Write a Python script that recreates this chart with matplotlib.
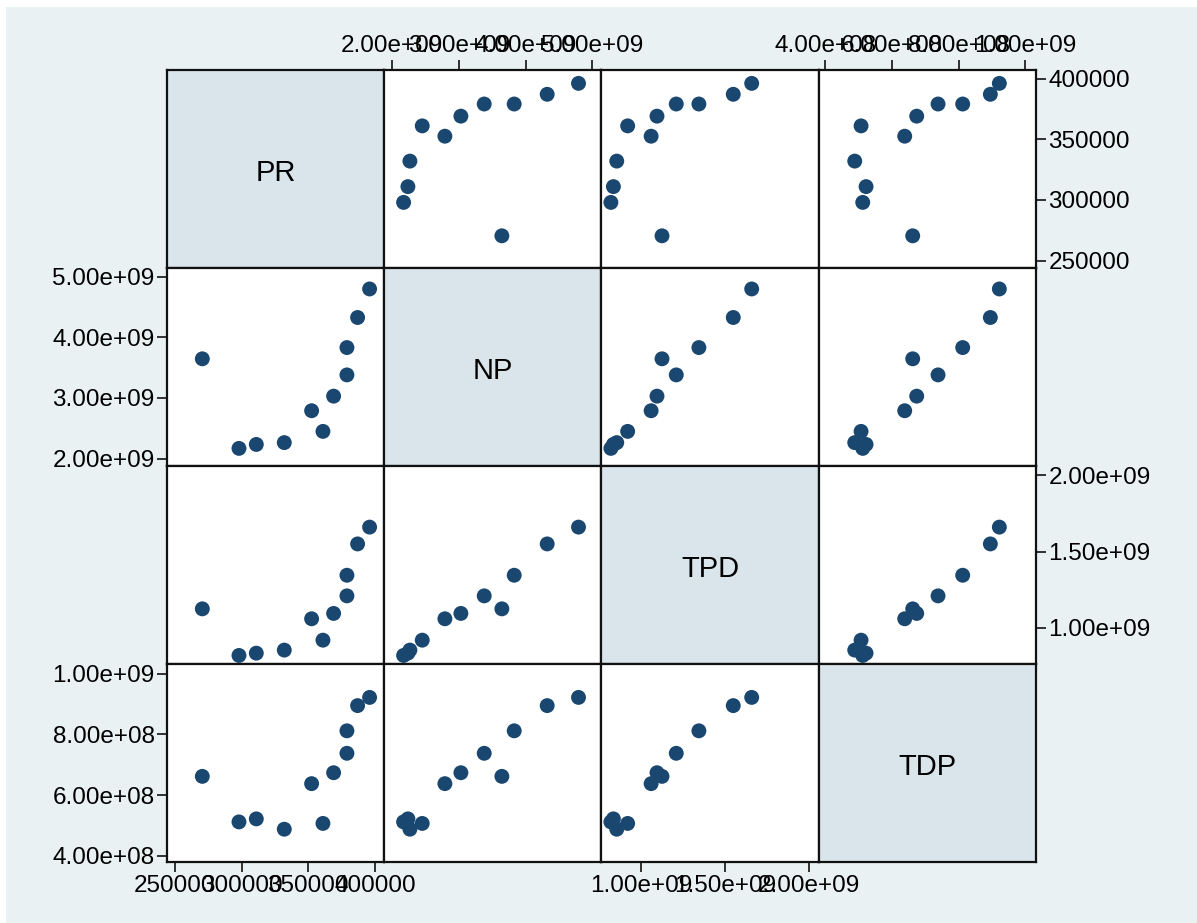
import numpy as np
import matplotlib
matplotlib.use('Agg')
import matplotlib.pyplot as plt
from matplotlib.patches import Rectangle

names = ['PR', 'NP', 'TPD', 'TDP']
PR = [270500, 298000, 311000, 332000, 352500, 361000, 369000, 379000, 379000, 387000, 396000]
NP = [3.645e9, 2.17e9, 2.235e9, 2.265e9, 2.79e9, 2.45e9, 3.03e9, 3.38e9, 3.83e9, 4.325e9, 4.795e9]
TPD = [1.125e9, 0.82e9, 0.835e9, 0.855e9, 1.06e9, 0.92e9, 1.095e9, 1.21e9, 1.345e9, 1.55e9, 1.66e9]
TDP = [6.62e8, 5.12e8, 5.22e8, 4.88e8, 6.38e8, 5.07e8, 6.74e8, 7.38e8, 8.12e8, 8.95e8, 9.22e8]
data = [PR, NP, TPD, TDP]

# axis ranges and ticks per variable
lims = [(244000, 407000), (1.88e9, 5.14e9), (0.764e9, 2.06e9), (3.8e8, 10.32e8)]
ticks = [[250000, 300000, 350000, 400000],
         [2e9, 3e9, 4e9, 5e9],
         [1e9, 1.5e9, 2e9],
         [4e8, 6e8, 8e8, 1e9]]
tick_labels = [['250000', '300000', '350000', '400000'],
               ['2.00e+09', '3.00e+09', '4.00e+09', '5.00e+09'],
               ['1.00e+09', '1.50e+09', '2.00e+09'],
               ['4.00e+08', '6.00e+08', '8.00e+08', '1.00e+09']]

bg = '#e9f1f3'
diag = '#d9e5eb'
navy = '#1a476f'

plt.rcParams['font.family'] = ['Liberation Sans', 'DejaVu Sans']

fig = plt.figure(figsize=(11.97, 9.23), dpi=100)
fig.patch.set_facecolor('white')
fig.add_artist(Rectangle((6 / 1197, 0), 1, 1 - 7 / 923, transform=fig.transFigure,
                         facecolor=bg, edgecolor='none', zorder=0))

gs = fig.add_gridspec(4, 4, left=167 / 1197, right=1036 / 1197,
                      top=1 - 70 / 923, bottom=1 - 862 / 923, wspace=0, hspace=0)

n = len(names)
for i in range(n):
    for j in range(n):
        ax = fig.add_subplot(gs[i, j])
        for s in ax.spines.values():
            s.set_linewidth(1.6)
            s.set_color('#111111')
        ax.tick_params(length=7, width=1.2, color='#111111', labelsize=17.5, pad=2)
        ax.set_xticks([])
        ax.set_yticks([])
        if i == j:
            ax.set_facecolor(diag)
            ax.text(0.5, 0.48, names[i], transform=ax.transAxes, ha='center',
                    va='center', fontsize=21)
        else:
            ax.set_facecolor('white')
            ax.scatter(data[j], data[i], s=115, color=navy, edgecolors='none', zorder=3)

        # x labels: columns 1 and 3 at the bottom, columns 2 and 4 at the top
        if i == n - 1 and j % 2 == 0:
            ax.set_xticks(ticks[j])
            ax.set_xticklabels(tick_labels[j])
            ax.xaxis.set_ticks_position('bottom')
        if i == 0 and j % 2 == 1:
            ax.set_xticks(ticks[j])
            ax.set_xticklabels(tick_labels[j])
            ax.xaxis.set_ticks_position('top')
        # y labels: rows 2 and 4 on the left, rows 1 and 3 on the right
        if j == 0 and i % 2 == 1:
            ax.set_yticks(ticks[i])
            ax.set_yticklabels(tick_labels[i])
            ax.yaxis.set_ticks_position('left')
        if j == n - 1 and i % 2 == 0:
            ax.set_yticks(ticks[i])
            ax.set_yticklabels(tick_labels[i])
            ax.yaxis.set_ticks_position('right')
        ax.set_xlim(lims[j])
        ax.set_ylim(lims[i])

fig.savefig('out.png', dpi=100, facecolor=fig.get_facecolor())
